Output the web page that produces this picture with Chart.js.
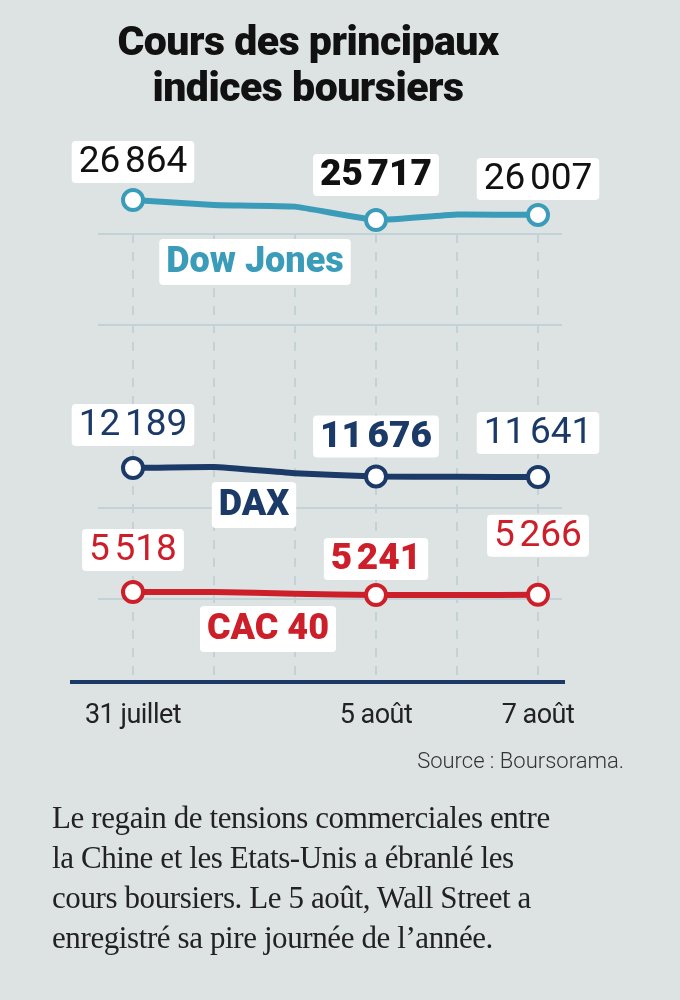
<!DOCTYPE html>
<html><head><meta charset="utf-8">
<script src="https://cdn.jsdelivr.net/npm/chart.js@4/dist/chart.umd.min.js"></script>
<style>
html,body{margin:0;padding:0;background:#dde3e2;width:680px;height:1000px;overflow:hidden}
#wrap{position:absolute;left:0;top:0;width:680px;height:1000px}
.t{position:absolute;font-family:Roboto,sans-serif}
</style></head><body>
<div id="wrap"><canvas id="c" width="680" height="1000"></canvas></div>
<div class="t" style="left:0;width:616px;top:18px;text-align:center;font-weight:900;font-size:41px;line-height:46px;color:#111;letter-spacing:-0.5px">Cours des principaux<br>indices boursiers</div>
<div class="t" style="right:56px;top:748px;font-size:22px;color:#333;font-weight:300">Source : Boursorama.</div>
<div class="t" style="left:52px;top:798px;font-family:'Liberation Serif',serif;font-size:31px;line-height:40px;color:#222;width:620px;letter-spacing:-0.4px">Le regain de tensions commerciales entre<br>la Chine et les Etats-Unis a ébranlé les<br>cours boursiers. Le 5 août, Wall Street a<br>enregistré sa pire journée de l’année.</div>
<script>
const dates = ["31 juillet","1 août","2 août","5 août","6 août","7 août"];
const tickLabels = ["31 juillet","","","5 août","","7 août"];
const dowJones = [26864, 26583, 26485, 25717, 26030, 26007];
const dax = [12189, 12253, 11872, 11676, 11650, 11641];
const cac40 = [5518, 5520, 5360, 5241, 5235, 5266];
const shownLabels = [0, 3, 5];
const seriesNames = ["Dow Jones","DAX","CAC 40"];

const colors = ["#3b9cba","#1b3a68","#cc1f2a"];
const labelOff = [[-38,-45,-36],[-43,-40,-44],[-42,-36,-59]];
const nameBox = [[255,262],[254,505],[268,629]];

function fmt(v){const s=String(v);return s.length>3?s.slice(0,s.length-3)+"\u202f"+s.slice(-3):s;}

const deco = {
  id:'deco',
  beforeDatasetsDraw(chart){
    const ctx=chart.ctx, x=chart.scales.x;
    ctx.save();
    ctx.strokeStyle='#c3d2d6'; ctx.lineWidth=2;
    [234,325,508,599].forEach(y=>{ctx.beginPath();ctx.moveTo(98,y);ctx.lineTo(562,y);ctx.stroke();});
    ctx.setLineDash([9,9]);
    dates.forEach((d,i)=>{const px=x.getPixelForValue(i);ctx.beginPath();ctx.moveTo(px,234);ctx.lineTo(px,676);ctx.stroke();});
    ctx.setLineDash([]);
    ctx.strokeStyle='#1b3a68'; ctx.lineWidth=4;
    ctx.beginPath();ctx.moveTo(70,682);ctx.lineTo(565,682);ctx.stroke();
    ctx.fillStyle='#222'; ctx.font='27px Roboto'; ctx.textAlign='center'; ctx.textBaseline='middle';
    ctx.letterSpacing='-0.5px';
    tickLabels.forEach((t,i)=>{if(t)ctx.fillText(t,x.getPixelForValue(i),716);});
    ctx.restore();
  },
  afterDatasetsDraw(chart){
    const ctx=chart.ctx;
    ctx.save(); ctx.textAlign='center'; ctx.textBaseline='middle';
    chart.data.datasets.forEach((ds,di)=>{
      const meta=chart.getDatasetMeta(di);
      shownLabels.forEach((idx,k)=>{
        const p=meta.data[idx]; const bold=idx===3;
        ctx.font=(bold?'900 ':'400 ')+'37px Roboto';
        ctx.letterSpacing='-2.5px';
        const txt=fmt(ds.data[idx]); const w=ctx.measureText(txt).width+14;
        const cy=p.y+labelOff[di][k];
        ctx.fillStyle='#fff'; ctx.beginPath(); ctx.roundRect(p.x-w/2,cy-21,w,42,4); ctx.fill();
        ctx.fillStyle=di===0?'#111':colors[di]; ctx.fillText(txt,p.x,cy+1);
      });
      ctx.font='900 36px Roboto'; ctx.letterSpacing='0px';
      const nm=seriesNames[di]; const w=ctx.measureText(nm).width+14;
      const [cx,cy]=nameBox[di];
      ctx.fillStyle='#fff'; ctx.beginPath(); ctx.roundRect(cx-w/2,cy-23,w,46,4); ctx.fill();
      ctx.fillStyle=colors[di]; ctx.fillText(nm,cx,cy+1);
    });
    ctx.restore();
  }
};

const mk=(data,axis,c)=>({data,yAxisID:axis,borderColor:c,borderWidth:6,pointRadius:[10,0,0,10,0,10],pointBorderWidth:4,pointBackgroundColor:'#fff',pointBorderColor:c,tension:0.1,clip:false});

new Chart(document.getElementById('c'),{
  type:'line',
  data:{labels:dates,datasets:[mk(dowJones,'yDow',colors[0]),mk(dax,'yDax',colors[1]),mk(cac40,'yCac',colors[2])]},
  options:{responsive:false,animation:false,
    layout:{padding:{left:92.5,right:101.5,top:130,bottom:318}},
    plugins:{legend:{display:false},tooltip:{enabled:false}},
    scales:{
      x:{type:'category',offset:true,display:false},
      yDow:{display:false,min:-779,max:30879},
      yDax:{display:false,min:-844,max:32773},
      yCac:{display:false,min:-2762,max:48022}
    }},
  plugins:[deco]
});
</script>
</body></html>
